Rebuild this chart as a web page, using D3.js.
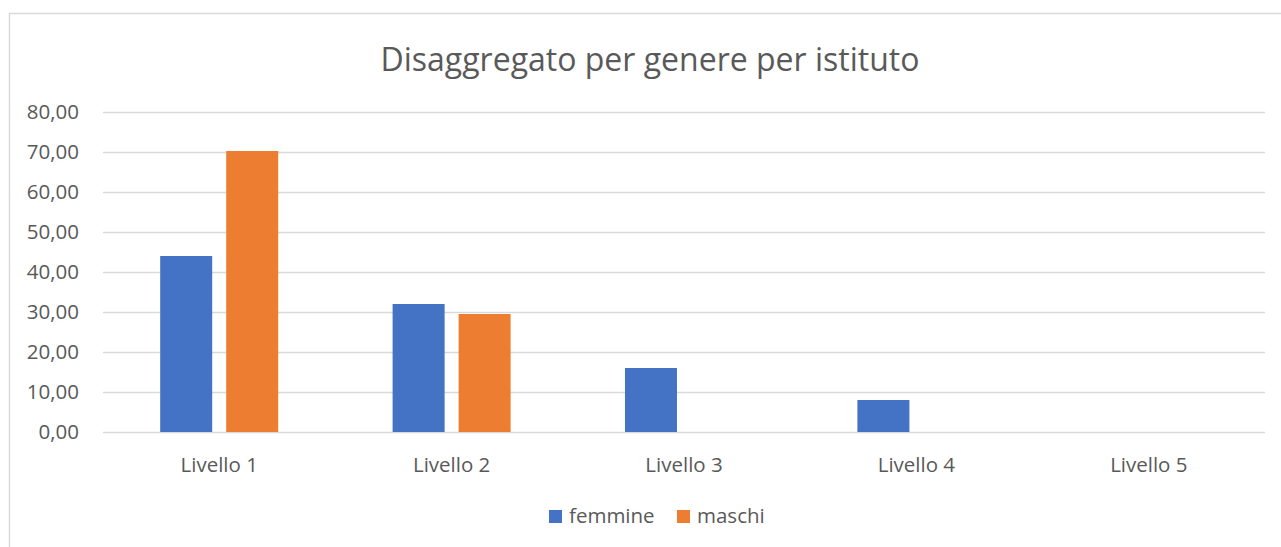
<!DOCTYPE html>
<html>
<head>
<meta charset="utf-8">
<script src="https://cdn.jsdelivr.net/npm/d3@7"></script>
<style>
  body { margin: 0; background: #fff; }
  text { font-family: "Open Sans", "Noto Sans", sans-serif; fill: #595959; }
</style>
</head>
<body>
<div id="chart"></div>
<script>
var categories = ['Livello 1', 'Livello 2', 'Livello 3', 'Livello 4', 'Livello 5'];
var series = ['femmine', 'maschi'];
var femmine = [44.0, 32.0, 16.0, 8.0, 0];
var maschi = [70.25, 29.5, 0, 0, 0];
var yTicks = [0, 10, 20, 30, 40, 50, 60, 70, 80];
var colors = ['#4472C4', '#ED7D31'];

var width = 1281, height = 547,
    margin = { top: 112, right: 16, bottom: 115, left: 103 };
var innerW = width - margin.left - margin.right,
    innerH = 432 - margin.top;

var svg = d3.select('#chart').append('svg')
    .attr('width', width)
    .attr('height', height);

// chart frame
svg.append('rect')
    .attr('x', 9.5).attr('y', 13.5)
    .attr('width', width + 20).attr('height', height + 20)
    .attr('fill', 'none')
    .attr('stroke', '#d9d9d9')
    .attr('stroke-width', 1.5);

svg.append('text')
    .attr('x', 650).attr('y', 71)
    .attr('text-anchor', 'middle')
    .style('font-size', '32px')
    .text('Disaggregato per genere per istituto');

var g = svg.append('g')
    .attr('transform', 'translate(' + margin.left + ',' + margin.top + ')');

var y = d3.scaleLinear().domain([0, 80]).range([innerH, 0]);
var x0 = d3.scaleBand().domain(categories).range([0, innerW]);
var x1 = d3.scaleBand().domain(series)
    .range([57.2, x0.bandwidth() - 57.2])
    .paddingInner(14 / 66);

// grid + y labels
g.append('g')
    .call(d3.axisLeft(y).tickValues(yTicks).tickSize(-innerW).tickPadding(24)
      .tickFormat(function(d) { return d3.format('.2f')(d).replace('.', ','); }))
    .call(function(s) {
      s.select('.domain').remove();
      s.selectAll('line').attr('stroke', '#d9d9d9').attr('stroke-width', 1.5);
      s.selectAll('text').style('font-size', '20.5px').attr('fill', '#595959');
    });

var rows = categories.map(function(c, i) { return { cat: c, vals: [femmine[i], maschi[i]] }; });

g.selectAll('.grp').data(rows).enter().append('g')
    .attr('transform', function(d) { return 'translate(' + x0(d.cat) + ',0)'; })
  .selectAll('rect')
    .data(function(d) { return d.vals.map(function(v, j) { return { s: series[j], v: v, c: colors[j] }; }); })
  .enter().append('rect')
    .filter(function(d) { return d.v > 0; })
    .attr('x', function(d) { return x1(d.s); })
    .attr('width', x1.bandwidth())
    .attr('y', function(d) { return y(d.v); })
    .attr('height', function(d) { return innerH - y(d.v); })
    .attr('fill', function(d) { return d.c; });

// x labels
g.append('g')
    .attr('transform', 'translate(0,' + innerH + ')')
    .call(d3.axisBottom(x0).tickSize(0).tickPadding(25))
    .call(function(s) {
      s.select('.domain').remove();
      s.selectAll('text').style('font-size', '20.5px').attr('fill', '#595959');
    });

// legend
var legX = [549, 677];
var leg = svg.selectAll('.leg').data(series).enter().append('g')
    .attr('transform', function(d, i) { return 'translate(' + legX[i] + ',510)'; });
leg.append('rect').attr('width', 13).attr('height', 13)
    .attr('fill', function(d, i) { return colors[i]; });
leg.append('text').attr('x', 20).attr('y', 12.5)
    .style('font-size', '20.5px')
    .text(function(d) { return d; });
</script>
</body>
</html>
